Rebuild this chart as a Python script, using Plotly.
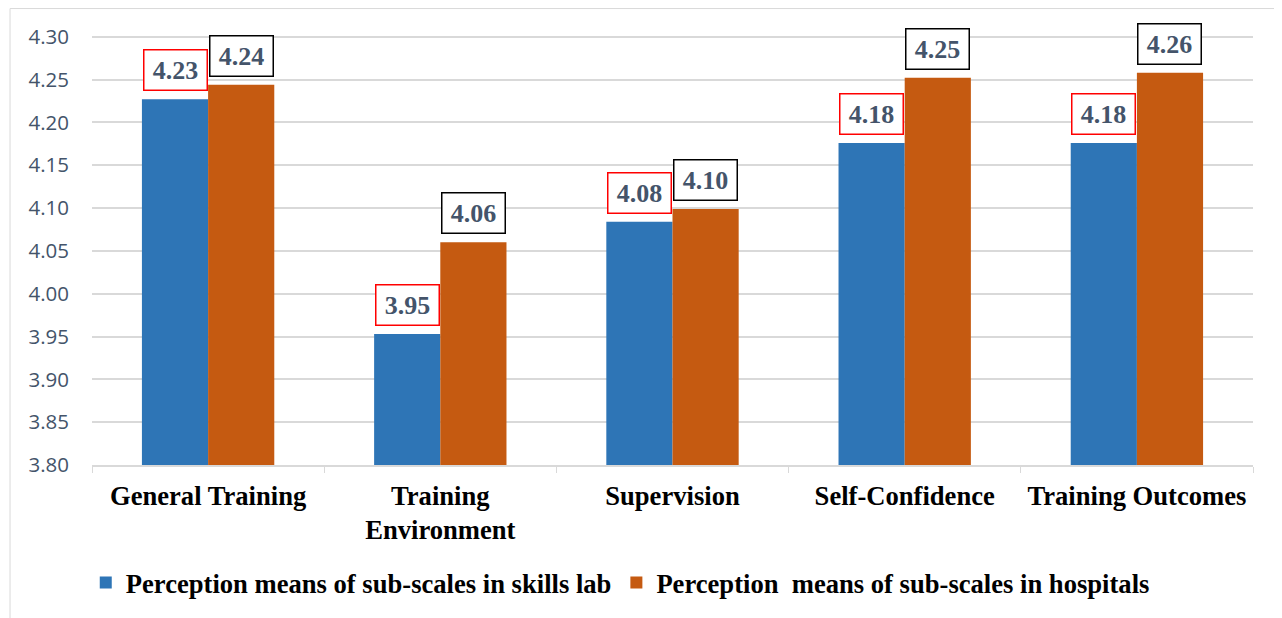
import plotly.graph_objects as go

categories = ["General Training", "Training<br>Environment", "Supervision", "Self-Confidence", "Training Outcomes"]
skills_lab = [4.227, 3.953, 4.084, 4.176, 4.176]
hospitals = [4.244, 4.060, 4.099, 4.252, 4.258]
lab_labels = ["4.23", "3.95", "4.08", "4.18", "4.18"]
hosp_labels = ["4.24", "4.06", "4.10", "4.25", "4.26"]
series_names = ["Perception means of sub-scales in skills lab",
                "Perception \u00a0means of sub-scales in hospitals"]
y_ticks = [3.80, 3.85, 3.90, 3.95, 4.00, 4.05, 4.10, 4.15, 4.20, 4.25, 4.30]

BLUE = "#2E75B6"
ORANGE = "#C55A11"
SERIF = "Liberation Serif"

fig = go.Figure()
fig.add_trace(go.Bar(x=categories, y=[v - 3.8 for v in skills_lab], base=3.8,
                     name=series_names[0], marker=dict(color=BLUE, line=dict(width=0))))
fig.add_trace(go.Bar(x=categories, y=[v - 3.8 for v in hospitals], base=3.8,
                     name=series_names[1], marker=dict(color=ORANGE, line=dict(width=0))))

annos = []
for i, c in enumerate(categories):
    for val, lab, shift, bc in [(skills_lab[i], lab_labels[i], -33, "#FF0000"),
                                (hospitals[i], hosp_labels[i], 33, "#000000")]:
        annos.append(dict(x=c, y=val, xref="x", yref="y", text="<b>" + lab + "</b>",
                          showarrow=False, xshift=shift, yanchor="bottom", yshift=8,
                          width=54, height=31,
                          font=dict(family=SERIF, size=26, color="#44546A"),
                          bordercolor=bc, borderwidth=1.5, borderpad=4, bgcolor="white"))

fig.update_layout(
    width=1274, height=610,
    margin=dict(l=84, r=29, t=27, b=152),
    paper_bgcolor="white", plot_bgcolor="white",
    barmode="group", bargap=0.43, bargroupgap=0,
    showlegend=True,
    legend=dict(orientation="h", x=0.455, xanchor="center", y=-0.271, yanchor="middle",
                font=dict(family=SERIF, size=26.6, color="black", weight="bold"),
                itemwidth=30, traceorder="normal"),
    annotations=annos,
    shapes=[dict(type="rect", xref="paper", yref="paper", x0=-0.0706, x1=1.0241,
                 y0=-0.36, y1=1.0615, line=dict(color="#D9D9D9", width=1), layer="below")],
)
fig.update_xaxes(
    type="category", showgrid=False, showline=True, linecolor="#D9D9D9", linewidth=1.5,
    tickson="boundaries", ticks="outside", ticklen=6, tickcolor="#D9D9D9",
    tickfont=dict(family=SERIF, size=26.6, color="black", weight="bold"),
    ticklabelstandoff=6,
)
fig.update_yaxes(
    range=[3.8, 4.302], tickvals=y_ticks, tickformat=".2f", showgrid=True,
    gridcolor="#D9D9D9", gridwidth=1.5, zeroline=False, showline=False,
    tickfont=dict(family="Open Sans", size=20.5, color="#44546A"), ticklabelstandoff=22,
)
fig.write_html("out.html")
